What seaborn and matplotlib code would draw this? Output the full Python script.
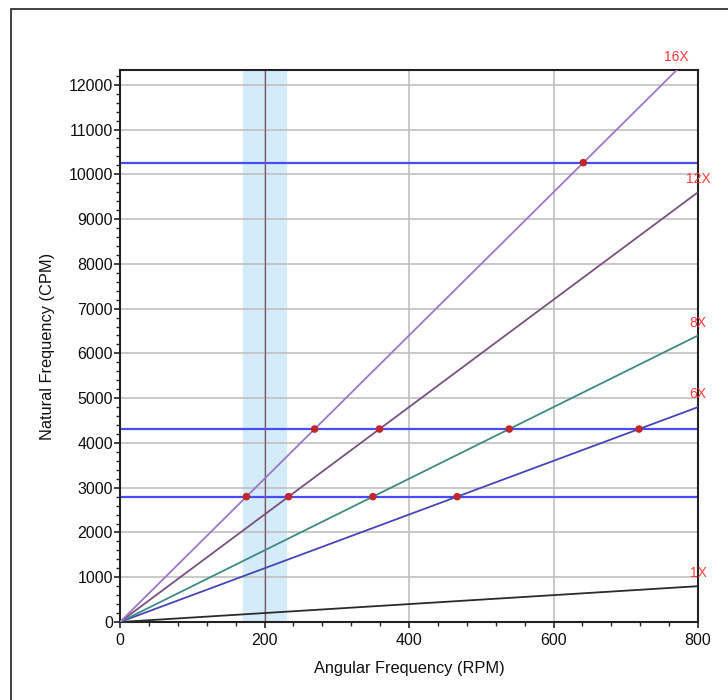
import numpy as np
import pandas as pd
import matplotlib
matplotlib.use("Agg")
import matplotlib.pyplot as plt
from matplotlib.ticker import MultipleLocator
import seaborn as sns

# Engine order lines (multiples of running speed)
orders = [1, 6, 8, 12, 16]
order_labels = ["1X", "6X", "8X", "12X", "16X"]
order_colors = ["#2b2b2b", "#4646b4", "#3f8a82", "#7a5080", "#9a78c8"]

# Natural frequencies of the structure (CPM)
natural_freqs = [2800, 4310, 10260]

# Operating speed and its band (RPM)
operating_speed = 200
speed_band = [170, 230]

speed_range = [0, 800]

sns.set_theme(style="white")
plt.rcParams["font.family"] = ["Liberation Sans", "DejaVu Sans"]

fig = plt.figure(figsize=(7.28, 7.00), dpi=100)
ax = fig.add_axes([120 / 728, 78 / 700, 578 / 728, 552 / 700])

# Outer frame of the figure
fig.add_artist(plt.Rectangle((11 / 728, -0.1), 1.2, (700 - 9) / 700 + 0.1,
                             transform=fig.transFigure, fill=False,
                             edgecolor="#222222", linewidth=1.2))

ax.axvspan(speed_band[0], speed_band[1], color="#d4ecf9", zorder=0)

rows = []
for o, lab in zip(orders, order_labels):
    for s in speed_range:
        rows.append({"rpm": s, "cpm": o * s, "order": lab})
df = pd.DataFrame(rows)

sns.lineplot(data=df, x="rpm", y="cpm", hue="order", hue_order=order_labels,
             palette=order_colors, linewidth=1.3, legend=False, ax=ax,
             zorder=3)

for nf in natural_freqs:
    ax.axhline(nf, color="#4a4aff", linewidth=1.6, zorder=2)

ax.axvline(operating_speed, color="#7a5a70", linewidth=0.9, zorder=2)

# Intersections of the order lines with the natural frequencies
pts = []
for nf in natural_freqs:
    for o in orders:
        rpm = nf / o
        if o > 1 and rpm <= speed_range[1]:
            pts.append({"rpm": rpm, "cpm": nf})
pts = pd.DataFrame(pts)
sns.scatterplot(data=pts, x="rpm", y="cpm", color="#c0282c", s=30,
                edgecolor="none", zorder=5, ax=ax)

ymax = 12330
ax.set_xlim(0, 800)
ax.set_ylim(0, ymax)

# Order labels at the line ends
for o, lab in zip(orders, order_labels):
    x_end = min(800, ymax / o)
    ax.text(x_end, o * x_end + 130, lab, color="#ff3b3b", fontsize=10,
            ha="center", va="bottom", zorder=6, clip_on=False)

ax.xaxis.set_major_locator(MultipleLocator(200))
ax.xaxis.set_minor_locator(MultipleLocator(40))
ax.yaxis.set_major_locator(MultipleLocator(1000))
ax.yaxis.set_minor_locator(MultipleLocator(200))
ax.grid(True, which="major", color="#c0c0c0", linewidth=1.2)
ax.set_axisbelow(True)

ax.tick_params(which="major", direction="out", length=4, width=1.2,
               color="#222222", labelsize=11.5, labelcolor="#111111",
               pad=1, bottom=True, left=True)
ax.tick_params(axis="x", which="major", pad=4)
ax.tick_params(which="minor", direction="out", length=3, width=1.0,
               color="#222222", bottom=True, left=True)

for sp in ax.spines.values():
    sp.set_color("#222222")
    sp.set_linewidth(1.5)

ax.set_xlabel("Angular Frequency (RPM)", fontsize=11.8, labelpad=9,
              color="#111111")
ax.set_ylabel("Natural Frequency (CPM)", fontsize=11.8, labelpad=10,
              color="#111111")

fig.savefig("out.png", dpi=100)
